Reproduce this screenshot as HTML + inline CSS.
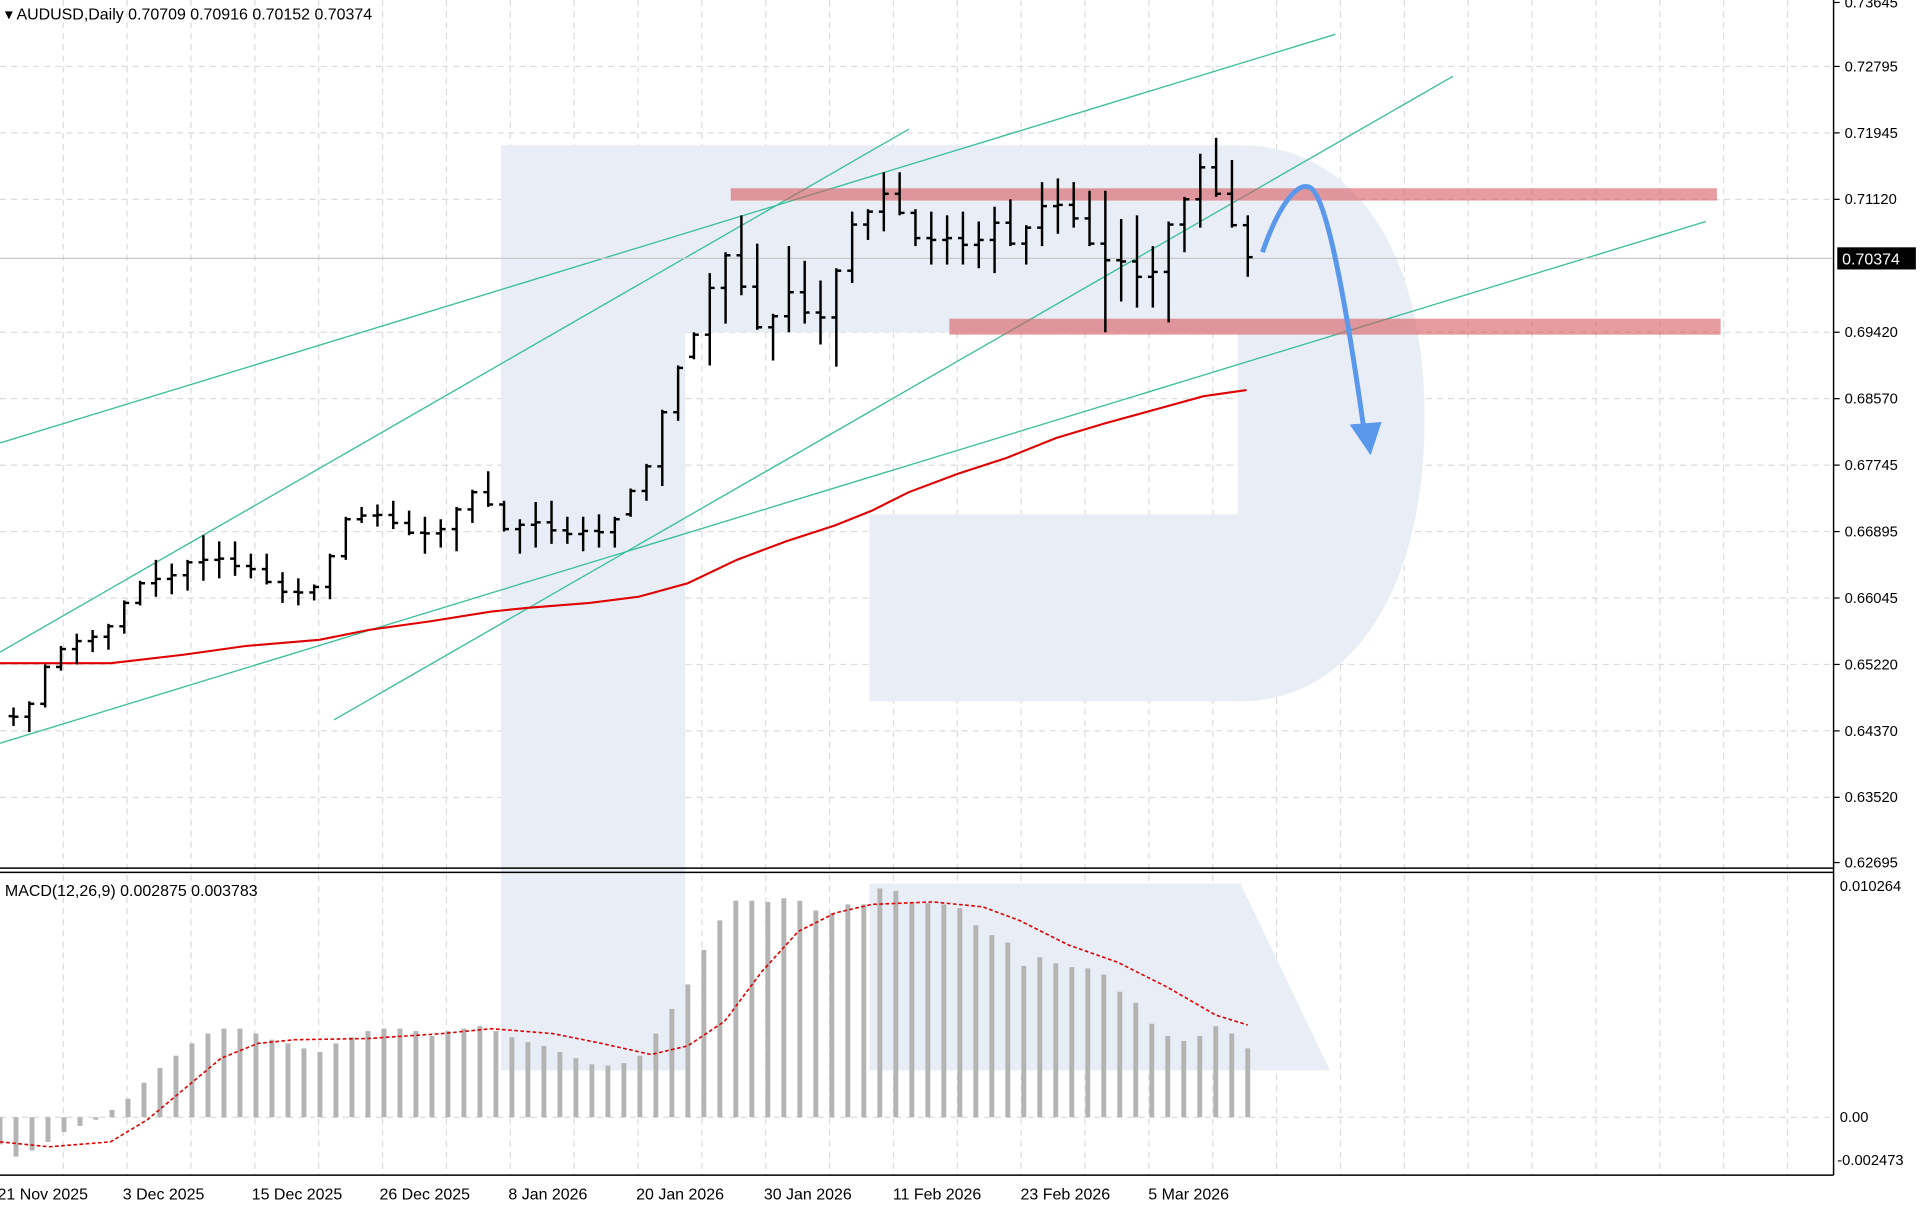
<!DOCTYPE html>
<html><head><meta charset="utf-8"><style>
html,body{margin:0;padding:0;background:#fff;overflow:hidden}
svg{display:block}
text{font-family:"Liberation Sans",sans-serif;font-size:13px;fill:#000}
</style></head><body>
<svg id="s" width="1922" height="1212" viewBox="0 0 1565 985" preserveAspectRatio="none" xmlns="http://www.w3.org/2000/svg">
<rect width="1565" height="985" fill="#fff"/>
<g id="grid" stroke="#dcdcdc" stroke-width="1" stroke-dasharray="5,4"></g>
<path d="M408,118 H1010 C1100,118 1160,200 1160,340 C1160,480 1100,570 1010,570 H708 V418 H1008 V270 H558 V870 H408 Z" fill="#e9eef6"/>
<path d="M708,718 H1010 L1083,870 H708 Z" fill="#e9eef6"/>
<g stroke="#3dbf9c" stroke-width="1.1">
<line x1="0" y1="360" x2="1087" y2="28"/>
<line x1="0" y1="530" x2="740" y2="105"/>
<line x1="272" y1="585" x2="1183" y2="62"/>
<line x1="0" y1="604" x2="1389" y2="180"/>
</g>
<rect x="595" y="153" width="803" height="10" fill="rgba(215,90,95,0.6)"/>
<rect x="773" y="259" width="628" height="13" fill="rgba(215,90,95,0.6)"/>
<line x1="0" y1="210" x2="1493" y2="210" stroke="#c8c8c8" stroke-width="1"/>
<polyline fill="none" stroke="#e00000" stroke-width="1.7" points="0,539 90,539 150,532 200,525 260,520 300,512 350,505 400,497 430,494 480,490 520,485 560,474 600,455 640,440 680,427 710,415 740,400 780,385 820,372 860,356 900,344 940,333 980,322 1015,317"/>
<g id="bars" stroke="#000" stroke-width="2"></g>
<g id="hist" fill="#b4b4b4"></g>
<polyline fill="none" stroke="#e00000" stroke-width="1.3" stroke-dasharray="3,2" points="0,928 40,932 90,928 120,910 150,885 180,860 210,848 240,845 300,844 360,840 400,836 450,840 490,848 530,857 560,850 590,830 620,790 650,757 680,742 710,735 760,733 800,737 830,748 870,768 910,782 950,802 990,825 1016,833"/>
<path d="M1028,205 C1040,170 1055,148 1066,152 C1080,158 1095,240 1110,345" fill="none" stroke="#5a98ec" stroke-width="4"/>
<polygon points="1099,345 1125,343 1116,370" fill="#5a98ec"/>
<g stroke="#000" stroke-width="1.2">
<line x1="1493" y1="0" x2="1493" y2="955"/>
<line x1="0" y1="705.5" x2="1493" y2="705.5"/>
<line x1="0" y1="709" x2="1493" y2="709"/>
<line x1="0" y1="955" x2="1493" y2="955"/>
</g>
<g id="axis"></g>
<text x="4" y="16">▾ AUDUSD,Daily  0.70709 0.70916 0.70152 0.70374</text>
<text x="4" y="728">MACD(12,26,9) 0.002875 0.003783</text>
<rect x="1496" y="201" width="64" height="18" fill="#000"/>
<text x="1500" y="215" style="fill:#fff">0.70374</text>
</svg>
<script>
var NS="http://www.w3.org/2000/svg";
function el(p,t,a,tx){var e=document.createElementNS(NS,t);for(var k in a)e.setAttribute(k,a[k]);if(tx)e.textContent=tx;document.getElementById(p).appendChild(e);return e;}
for(var x=51.5;x<1493;x+=52){el("grid","line",{x1:x,y1:0,x2:x,y2:955});}
var lv=[[2,"0.73645"],[54,"0.72795"],[108,"0.71945"],[162,"0.71120"],[270,"0.69420"],[324,"0.68570"],[378,"0.67745"],[432,"0.66895"],[486,"0.66045"],[540,"0.65220"],[594,"0.64370"],[648,"0.63520"],[701,"0.62695"]];
lv.forEach(function(l){ if(l[0]>5&&l[0]<700) el("grid","line",{x1:0,y1:l[0],x2:1493,y2:l[0]});
 el("axis","line",{x1:1493,y1:l[0],x2:1498,y2:l[0],stroke:"#000"});
 el("axis","text",{x:1502,y:l[0]+4,style:"font-size:12px"},l[1]);});
el("grid","line",{x1:0,y1:908,x2:1493,y2:908});
el("axis","text",{x:1498,y:912,style:"font-size:12px"},"0.00");
el("axis","text",{x:1498,y:724,style:"font-size:12px"},"0.010264");
el("axis","text",{x:1496,y:947,style:"font-size:12px"},"-0.002473");
var dates=[[-2,"21 Nov 2025"],[100,"3 Dec 2025"],[205,"15 Dec 2025"],[309,"26 Dec 2025"],[414,"8 Jan 2026"],[518,"20 Jan 2026"],[622,"30 Jan 2026"],[727,"11 Feb 2026"],[831,"23 Feb 2026"],[935,"5 Mar 2026"]];
dates.forEach(function(d){el("axis","text",{x:d[0],y:975},d[1]);});
var B=[[575,590],[570,595],[540,575],[525,545],[515,540],[512,530],[507,528],[488,515],[472,492],[455,485],[458,483],[455,480],[435,472],[440,470],[440,468],[450,470],[450,475],[465,490],[470,492],[475,488],[450,487],[420,455],[412,425],[410,428],[407,430],[415,435],[420,450],[422,445],[412,448],[398,425],[383,412],[407,432],[422,450],[408,445],[407,442],[420,442],[420,448],[418,445],[420,445],[397,420],[377,407],[333,395],[297,342],[270,292],[222,297],[205,263],[175,240],[198,268],[255,293],[200,270],[212,263],[228,280],[218,298],[172,230],[170,195],[140,188],[140,175],[170,200],[172,215],[175,215],[172,215],[180,218],[168,222],[162,200],[183,215],[148,200],[145,190],[148,185],[155,200],[155,270],[178,245],[175,250],[200,250],[180,262],[160,205],[125,185],[112,160],[130,185],[175,225]];
var n=B.length,step=(1016-11)/(n-1),closes=[];
for(var i=0;i<n;i++){var c;if(i==n-1)c=209;else{var m=(B[i+1][0]+B[i+1][1])/2;c=Math.min(Math.max(m,B[i][0]+2),B[i][1]-2);}closes.push(c);}
for(var i=0;i<n;i++){var x=11+step*i,o=i?Math.min(Math.max(closes[i-1],B[i][0]+2),B[i][1]-2):582;
 el("bars","line",{x1:x,y1:B[i][0],x2:x,y2:B[i][1]});
 el("bars","line",{x1:x-4,y1:o,x2:x,y2:o});
 el("bars","line",{x1:x,y1:closes[i],x2:x+4,y2:closes[i]});}
var H=[930,940,935,928,920,915,910,902,893,880,868,858,848,840,836,836,840,845,848,852,855,848,843,838,836,836,838,842,838,836,834,838,843,847,850,855,860,865,866,864,858,840,820,800,772,748,732,732,733,730,732,740,742,735,735,722,724,734,734,735,738,752,760,766,785,778,783,786,787,792,806,815,832,842,846,842,834,840,852];
var hs=1016/(H.length-1);
for(var i=0;i<H.length;i++){var x=hs*i,y=H[i];
 el("hist","rect",{x:x-2,y:Math.min(y,908),width:4,height:Math.abs(908-y)||1});}
</script>
</body></html>
